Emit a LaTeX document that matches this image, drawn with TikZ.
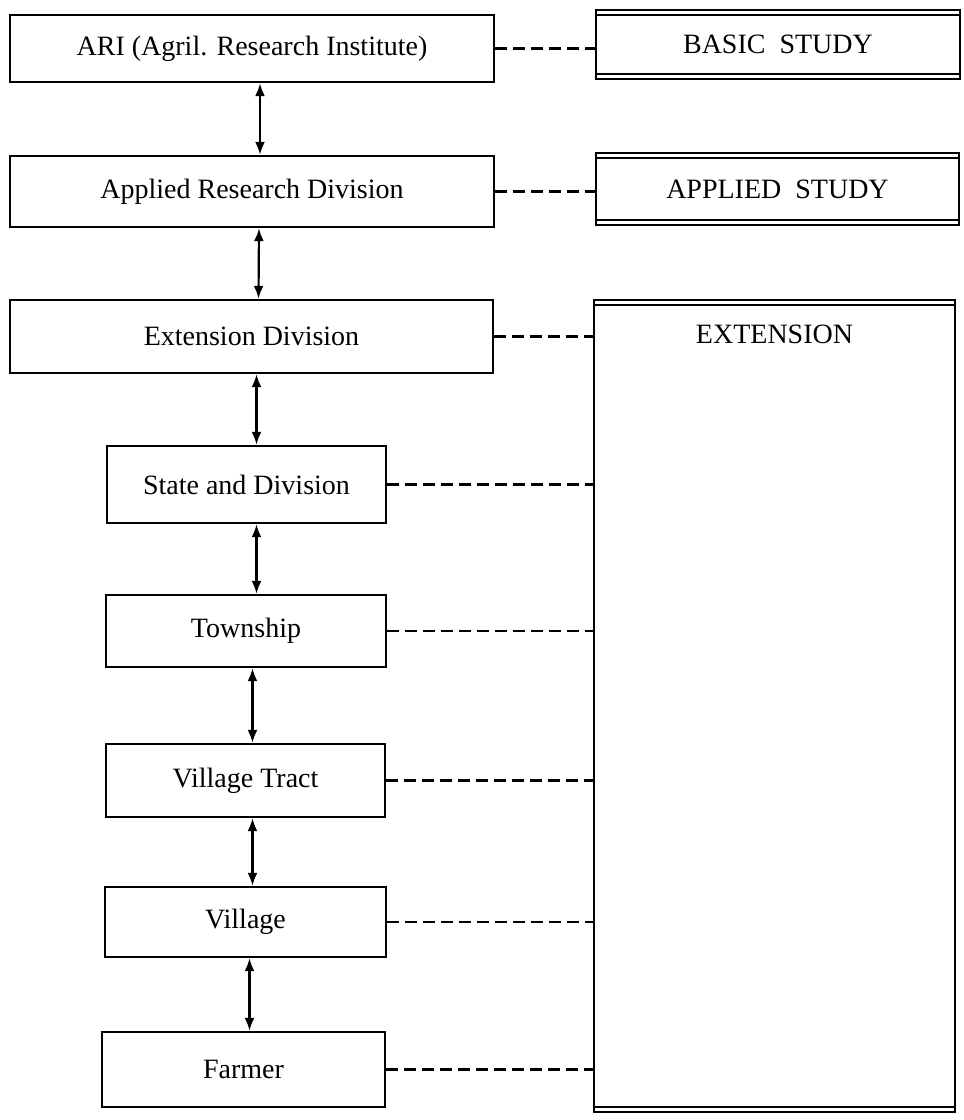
\documentclass[tikz,border=0pt]{standalone}
\usepackage{fontspec}
\setmainfont{Liberation Serif}
\usetikzlibrary{arrows.meta}
\begin{document}
\begin{tikzpicture}[x=1pt,y=-1pt,
  every node/.style={font=\fontsize{28}{32}\selectfont, inner sep=0pt},
  level/.style={draw, line width=2.4pt, rectangle},
  study/.style={draw, line width=2.4pt, rectangle},
  link/.style={line width=2.2pt, dash pattern=on 12pt off 6pt},
  arr/.style={line width=2.2pt, {Latex[length=13pt,width=10pt]}-{Latex[length=13pt,width=10pt]}}
]
\useasboundingbox (0,0) rectangle (964,1120);

% hierarchy of levels
\node[level, minimum width=484pt, minimum height=67pt] (ari)   at (252,48.5)   {ARI (Agril. Research Institute)};
\node[level, minimum width=484pt, minimum height=71pt] (ard)   at (252,191.5)  {Applied Research Division};
\node[level, minimum width=483pt, minimum height=73pt] (extd)  at (251.5,336.5) {Extension Division};
\node[level, minimum width=279pt, minimum height=77pt] (state) at (246.5,484.5) {State and Division};
\node[level, minimum width=280pt, minimum height=72pt] (town)  at (246,631)    {Township};
\node[level, minimum width=279pt, minimum height=73pt] (vt)    at (245.5,780.5) {Village Tract};
\node[level, minimum width=281pt, minimum height=70pt] (vil)   at (245.5,922)  {Village};
\node[level, minimum width=283pt, minimum height=75pt] (farm)  at (243.5,1069.5) {Farmer};

% kinds of work
\node[study, minimum width=364pt, minimum height=69pt] (basic) at (778,44.5) {BASIC\enspace STUDY};
\node[study, minimum width=363pt, minimum height=72pt] (appl)  at (777.5,189) {APPLIED\enspace STUDY};
\node[study, minimum width=361pt, minimum height=812pt,
      label={[anchor=center, yshift=-36pt]north:EXTENSION}] (ext) at (774.5,706) {};

% second rule inside the top and bottom of the right-hand boxes
\foreach \b in {basic,appl,ext}{
  \draw[line width=2pt] ([yshift=-6pt]\b.north west) -- ([yshift=-6pt]\b.north east);
  \draw[line width=2pt] ([yshift=6pt]\b.south west) -- ([yshift=6pt]\b.south east);
}

% two-way links between levels
\draw[arr] ([xshift=8pt]ari.south) -- ([xshift=8pt]ard.north);
\draw[arr] ([xshift=7pt]ard.south) -- ([xshift=7pt]extd.north);
\draw[arr] ([xshift=10pt]state.north |- extd.south) -- ([xshift=10pt]state.north);
\draw[arr] ([xshift=10pt]state.south) -- ([xshift=10pt]state.south |- town.north);
\draw[arr] ([xshift=7pt]vt.north |- town.south) -- ([xshift=7pt]vt.north);
\draw[arr] ([xshift=7pt]vt.south) -- ([xshift=7pt]vt.south |- vil.north);
\draw[arr] ([xshift=6pt]farm.north |- vil.south) -- ([xshift=6pt]farm.north);

% dashed ties to the work boxes
\draw[link] (ari.east) -- (ari.east -| basic.west);
\draw[link] (ard.east) -- (ard.east -| appl.west);
\foreach \n in {extd,state,town,vt,vil,farm}{
  \draw[link] (\n.east) -- (\n.east -| ext.west);
}
\end{tikzpicture}
\end{document}
